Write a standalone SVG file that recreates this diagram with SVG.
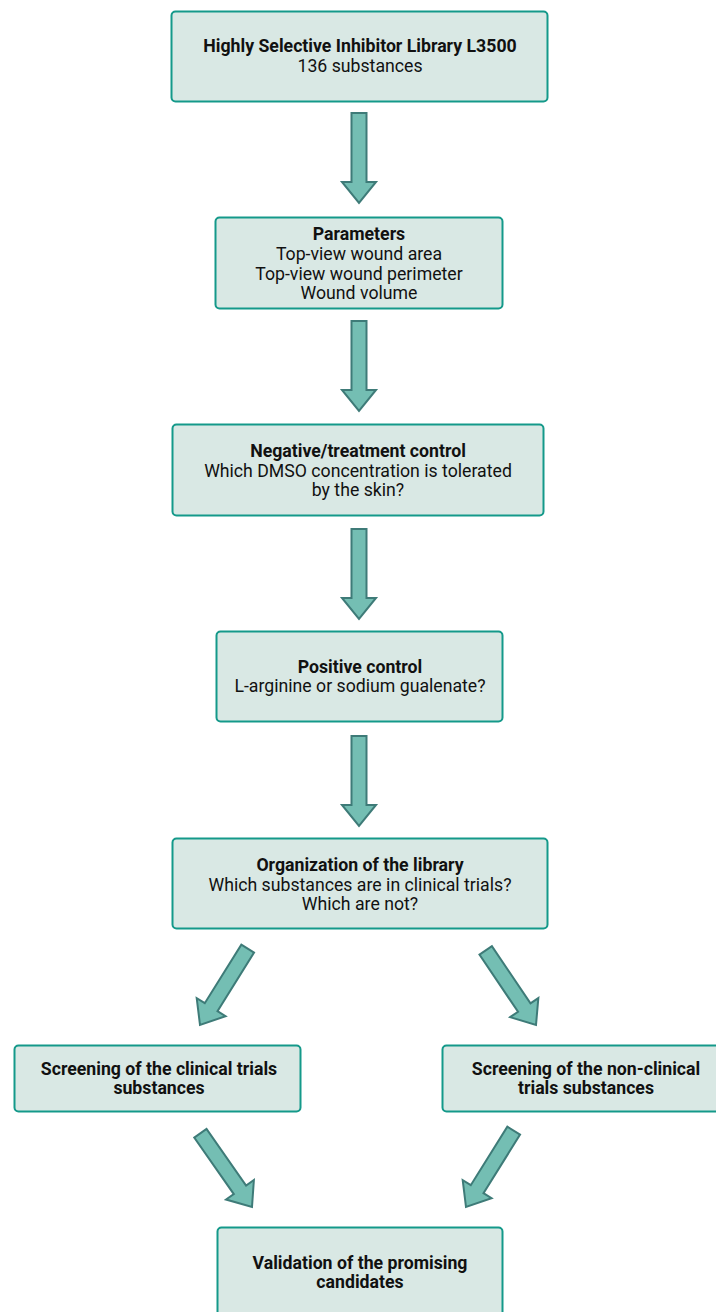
<svg xmlns="http://www.w3.org/2000/svg" width="716" height="1312" viewBox="0 0 716 1312">
<style>
.box{fill:#d9e8e4;stroke:#14998a;stroke-width:2}
.arr{fill:#74beb3;stroke:#3e7b78;stroke-width:2;stroke-linejoin:miter}
text{font-family:Roboto,"Liberation Sans",sans-serif;font-size:17.7px;fill:#111;text-anchor:middle}
.b{font-weight:bold}
</style>
<defs>
<path id="arrow" d="M -7.5,-90 L 7.5,-90 L 7.5,-21 L 17,-21 L 0,0 L -17,-21 L -7.5,-21 Z"/>
</defs>
<rect width="716" height="1312" fill="#fff"/>
<g id="connectors">
<use href="#arrow" class="arr" transform="translate(359,203)"/>
<use href="#arrow" class="arr" transform="translate(359,411)"/>
<use href="#arrow" class="arr" transform="translate(359,619)"/>
<use href="#arrow" class="arr" transform="translate(359,826)"/>
<use href="#arrow" class="arr" transform="translate(200,1025) rotate(32)"/>
<use href="#arrow" class="arr" transform="translate(536,1025) rotate(-34)"/>
<use href="#arrow" class="arr" transform="translate(252,1207) rotate(-35)"/>
<use href="#arrow" class="arr" transform="translate(466,1207) rotate(32)"/>
</g>
<g id="n1"><rect class="box" x="171.5" y="11.5" width="376" height="90" rx="4"/>
<text x="360" y="52" class="b">Highly Selective Inhibitor Library L3500</text>
<text x="360" y="72">136 substances</text></g>
<g id="n2"><rect class="box" x="215.5" y="217.5" width="287" height="91" rx="4"/>
<text x="359" y="240" class="b">Parameters</text>
<text x="359" y="260">Top-view wound area</text>
<text x="359" y="280">Top-view wound perimeter</text>
<text x="359" y="299">Wound volume</text></g>
<g id="n3"><rect class="box" x="172.5" y="424.5" width="371" height="91" rx="4"/>
<text x="358" y="457" class="b">Negative/treatment control</text>
<text x="358" y="477">Which DMSO concentration is tolerated</text>
<text x="358" y="496">by the skin?</text></g>
<g id="n4"><rect class="box" x="216.5" y="631.5" width="286" height="90" rx="4"/>
<text x="360" y="673" class="b">Positive control</text>
<text x="360" y="692">L-arginine or sodium gualenate?</text></g>
<g id="n5"><rect class="box" x="172.5" y="838.5" width="375" height="90" rx="4"/>
<text x="360" y="871" class="b">Organization of the library</text>
<text x="360" y="891">Which substances are in clinical trials?</text>
<text x="360" y="910">Which are not?</text></g>
<g id="n6"><rect class="box" x="14.5" y="1045.5" width="286" height="66" rx="4"/>
<text x="159" y="1075" class="b">Screening of the clinical trials</text>
<text x="159" y="1094" class="b">substances</text></g>
<g id="n7"><rect class="box" x="442.5" y="1045.5" width="287" height="66" rx="4"/>
<text x="586" y="1075" class="b">Screening of the non-clinical</text>
<text x="586" y="1094" class="b">trials substances</text></g>
<g id="n8"><rect class="box" x="217.5" y="1227.5" width="285" height="100" rx="4"/>
<text x="360" y="1269" class="b">Validation of the promising</text>
<text x="360" y="1288" class="b">candidates</text></g>
</svg>
